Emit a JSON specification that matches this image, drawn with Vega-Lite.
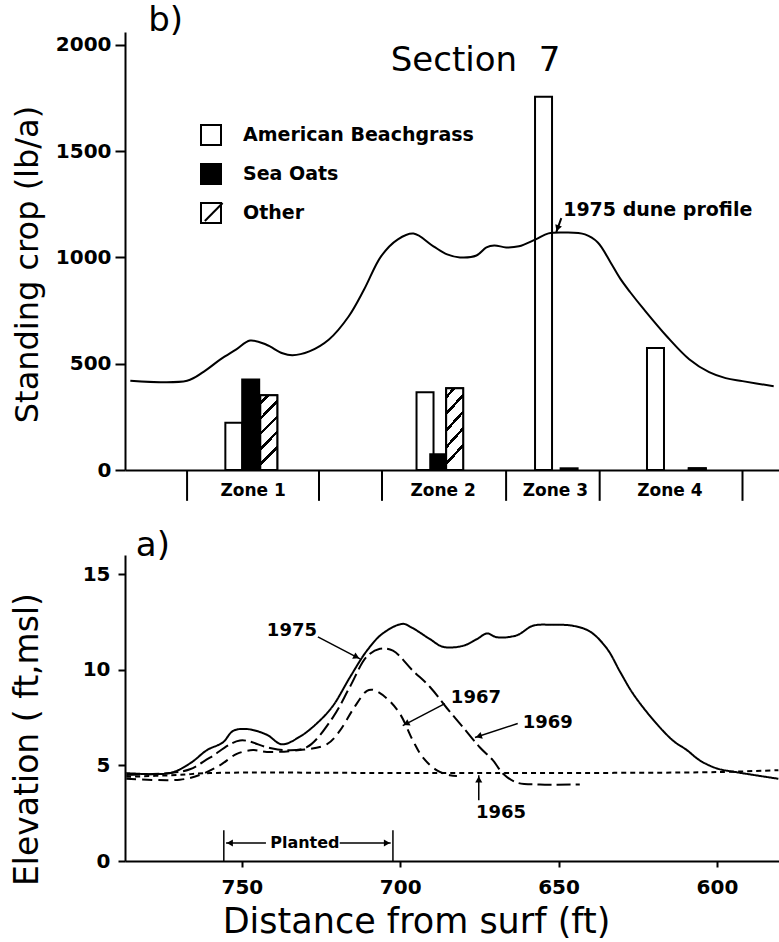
{
  "$schema": "https://vega.github.io/schema/vega-lite/v6.json",
  "background": "white",
  "padding": {"left": 11, "top": 4, "right": 0, "bottom": 0},
  "config": {
    "view": {"stroke": null},
    "axis": {"domainColor": "black", "tickColor": "black", "labelColor": "black", "titleColor": "black", "grid": false, "domainWidth": 2, "tickWidth": 2, "labelFlush": false}
  },
  "datasets": {
    "crop": [
      {"zone": "Zone 1", "species": "American Beachgrass", "dist": 756.8, "crop": 222},
      {"zone": "Zone 1", "species": "Sea Oats", "dist": 751.4, "crop": 426},
      {"zone": "Zone 1", "species": "Other", "dist": 745.6, "crop": 352},
      {"zone": "Zone 2", "species": "American Beachgrass", "dist": 695.5, "crop": 366},
      {"zone": "Zone 2", "species": "Sea Oats", "dist": 691.1, "crop": 74},
      {"zone": "Zone 2", "species": "Other", "dist": 686.0, "crop": 384},
      {"zone": "Zone 3", "species": "American Beachgrass", "dist": 657.5, "crop": 1756},
      {"zone": "Zone 3", "species": "Sea Oats", "dist": 649.3, "crop": 8},
      {"zone": "Zone 4", "species": "American Beachgrass", "dist": 621.6, "crop": 574},
      {"zone": "Zone 4", "species": "Other", "dist": 608.2, "crop": 8}
    ],
    "dune": [
      {"dist": 790, "crop": 420}, {"dist": 771.8, "crop": 420}, {"dist": 766.4, "crop": 463},
      {"dist": 761.1, "crop": 520}, {"dist": 756, "crop": 567}, {"dist": 751.6, "crop": 609},
      {"dist": 746.5, "crop": 590}, {"dist": 741.2, "crop": 549}, {"dist": 738, "crop": 540},
      {"dist": 732.6, "crop": 558}, {"dist": 726.3, "crop": 614}, {"dist": 720, "crop": 722},
      {"dist": 715, "crop": 850}, {"dist": 709.6, "crop": 1005}, {"dist": 704.2, "crop": 1085},
      {"dist": 699.2, "crop": 1112}, {"dist": 692.8, "crop": 1052}, {"dist": 688.4, "crop": 1014},
      {"dist": 684.3, "crop": 1000}, {"dist": 679, "crop": 1009}, {"dist": 675.8, "crop": 1047},
      {"dist": 673.3, "crop": 1056}, {"dist": 669.5, "crop": 1047}, {"dist": 665.4, "crop": 1052},
      {"dist": 660, "crop": 1085}, {"dist": 655.9, "crop": 1113}, {"dist": 650.5, "crop": 1117},
      {"dist": 644.2, "crop": 1108}, {"dist": 640.1, "crop": 1070}, {"dist": 636, "crop": 976},
      {"dist": 632.9, "crop": 900}, {"dist": 629.7, "crop": 836}, {"dist": 625.3, "crop": 755},
      {"dist": 618, "crop": 629}, {"dist": 610.8, "crop": 521}, {"dist": 604.4, "crop": 460},
      {"dist": 599.1, "crop": 432}, {"dist": 593.7, "crop": 418}, {"dist": 583.7, "crop": 394}
    ],
    "zones": [{"dist": 771.8}, {"dist": 729.5}, {"dist": 709.3}, {"dist": 669.5}, {"dist": 639.5}, {"dist": 593.7}],
    "zonelabels": [
      {"zone": "Zone 1", "dist": 750.6}, {"zone": "Zone 2", "dist": 689.7},
      {"zone": "Zone 3", "dist": 653.7}, {"zone": "Zone 4", "dist": 617}
    ],
    "topbig": [
      {"label": "Section\u00a0\u00a07", "dist": 679.3, "crop": 1924},
      {"label": "b)", "dist": 778.7, "crop": 2111}
    ],
    "topnote": [{"label": "1975 dune profile", "dist": 651.2, "crop": 1221}],
    "toparrow": [
      {"dist": 651.8, "crop": 1185, "dist2": 653.4, "crop2": 1119},
      {"dist": 766.1, "crop": 1171, "dist2": 760.4, "crop2": 1256}
    ],
    "tophead": [{"dist": 653, "crop": 1137, "heading": 200}],
    "profiles": [
      {"year": "1975", "dist": 786.5, "elev": 4.6}, {"year": "1975", "dist": 772.7, "elev": 4.6},
      {"year": "1975", "dist": 766.4, "elev": 5.1}, {"year": "1975", "dist": 761, "elev": 5.8},
      {"year": "1975", "dist": 756, "elev": 6.2}, {"year": "1975", "dist": 752.8, "elev": 6.8},
      {"year": "1975", "dist": 748.4, "elev": 6.9}, {"year": "1975", "dist": 742.1, "elev": 6.6},
      {"year": "1975", "dist": 737.4, "elev": 6.1}, {"year": "1975", "dist": 731.7, "elev": 6.5},
      {"year": "1975", "dist": 726.3, "elev": 7.2}, {"year": "1975", "dist": 721.3, "elev": 8.1},
      {"year": "1975", "dist": 715.9, "elev": 9.6}, {"year": "1975", "dist": 710.5, "elev": 11.0},
      {"year": "1975", "dist": 705.5, "elev": 11.9}, {"year": "1975", "dist": 699.2, "elev": 12.4},
      {"year": "1975", "dist": 696.3, "elev": 12.2}, {"year": "1975", "dist": 690.6, "elev": 11.6},
      {"year": "1975", "dist": 686.5, "elev": 11.2}, {"year": "1975", "dist": 680.2, "elev": 11.25},
      {"year": "1975", "dist": 675.8, "elev": 11.6}, {"year": "1975", "dist": 672.6, "elev": 11.9},
      {"year": "1975", "dist": 669.5, "elev": 11.7}, {"year": "1975", "dist": 663.2, "elev": 11.8},
      {"year": "1975", "dist": 658.1, "elev": 12.3}, {"year": "1975", "dist": 651.8, "elev": 12.35},
      {"year": "1975", "dist": 645.5, "elev": 12.3}, {"year": "1975", "dist": 640.1, "elev": 12.0},
      {"year": "1975", "dist": 634.7, "elev": 11.1}, {"year": "1975", "dist": 630.6, "elev": 9.9},
      {"year": "1975", "dist": 626.5, "elev": 8.75}, {"year": "1975", "dist": 620.2, "elev": 7.4},
      {"year": "1975", "dist": 613.9, "elev": 6.3}, {"year": "1975", "dist": 609.5, "elev": 5.8},
      {"year": "1975", "dist": 605.4, "elev": 5.26}, {"year": "1975", "dist": 600, "elev": 4.84},
      {"year": "1975", "dist": 593.7, "elev": 4.64}, {"year": "1975", "dist": 580.6, "elev": 4.3},
      {"year": "1969", "dist": 786.5, "elev": 4.5}, {"year": "1969", "dist": 772.7, "elev": 4.6},
      {"year": "1969", "dist": 766.4, "elev": 4.8}, {"year": "1969", "dist": 760.1, "elev": 5.4},
      {"year": "1969", "dist": 750.6, "elev": 6.3}, {"year": "1969", "dist": 742.1, "elev": 5.95},
      {"year": "1969", "dist": 737.1, "elev": 5.8}, {"year": "1969", "dist": 729.5, "elev": 5.95},
      {"year": "1969", "dist": 721.3, "elev": 7.5}, {"year": "1969", "dist": 715.9, "elev": 9.1},
      {"year": "1969", "dist": 710.5, "elev": 10.7}, {"year": "1969", "dist": 706.4, "elev": 11.1},
      {"year": "1969", "dist": 702.3, "elev": 11.0}, {"year": "1969", "dist": 696, "elev": 9.95},
      {"year": "1969", "dist": 690.6, "elev": 9.1}, {"year": "1969", "dist": 685.3, "elev": 8.0},
      {"year": "1969", "dist": 680.2, "elev": 7.0}, {"year": "1969", "dist": 674.9, "elev": 5.95},
      {"year": "1969", "dist": 670.7, "elev": 5.26}, {"year": "1969", "dist": 667.6, "elev": 4.58},
      {"year": "1969", "dist": 663.2, "elev": 4.1}, {"year": "1969", "dist": 655.9, "elev": 4.0},
      {"year": "1969", "dist": 643.3, "elev": 4.0},
      {"year": "1967", "dist": 786.5, "elev": 4.3}, {"year": "1967", "dist": 769.6, "elev": 4.25},
      {"year": "1967", "dist": 763.3, "elev": 4.5}, {"year": "1967", "dist": 757, "elev": 5.0},
      {"year": "1967", "dist": 751.6, "elev": 5.6}, {"year": "1967", "dist": 746.5, "elev": 5.8},
      {"year": "1967", "dist": 742.1, "elev": 5.7}, {"year": "1967", "dist": 731.7, "elev": 5.8},
      {"year": "1967", "dist": 723.2, "elev": 6.1}, {"year": "1967", "dist": 719.1, "elev": 6.8},
      {"year": "1967", "dist": 715, "elev": 7.9}, {"year": "1967", "dist": 710.5, "elev": 8.9},
      {"year": "1967", "dist": 708.6, "elev": 8.95}, {"year": "1967", "dist": 704.2, "elev": 8.5},
      {"year": "1967", "dist": 700.1, "elev": 7.7}, {"year": "1967", "dist": 696, "elev": 6.3},
      {"year": "1967", "dist": 692.8, "elev": 5.4}, {"year": "1967", "dist": 688.4, "elev": 4.74},
      {"year": "1967", "dist": 684.3, "elev": 4.48}, {"year": "1967", "dist": 682.1, "elev": 4.45},
      {"year": "1965", "dist": 786.5, "elev": 4.4}, {"year": "1965", "dist": 770, "elev": 4.5},
      {"year": "1965", "dist": 760, "elev": 4.6}, {"year": "1965", "dist": 700, "elev": 4.6},
      {"year": "1965", "dist": 650, "elev": 4.6}, {"year": "1965", "dist": 600, "elev": 4.65},
      {"year": "1965", "dist": 580.6, "elev": 4.75}
    ],
    "yearlabels": [
      {"label": "1975", "dist": 734.2, "elev": 12.03},
      {"label": "1967", "dist": 676.1, "elev": 8.54},
      {"label": "1969", "dist": 653.4, "elev": 7.24},
      {"label": "1965", "dist": 668.2, "elev": 2.5}
    ],
    "planted": [{"label": "Planted", "dist": 730.1, "elev": 0.94}],
    "panelA": [{"label": "a)", "dist": 778.1, "elev": 16.46}],
    "arrows": [
      {"dist": 726, "elev": 11.72, "dist2": 712.7, "elev2": 10.57},
      {"dist": 685.9, "elev": 8.23, "dist2": 699.2, "elev2": 7.08},
      {"dist": 662.9, "elev": 7.19, "dist2": 676.4, "elev2": 6.46},
      {"dist": 675.2, "elev": 3.18, "dist2": 675.2, "elev2": 4.48},
      {"dist": 742.4, "elev": 0.94, "dist2": 755.0, "elev2": 0.94},
      {"dist": 719.1, "elev": 0.94, "dist2": 703.0, "elev2": 0.94},
      {"dist": 755.7, "elev": 0, "dist2": 755.7, "elev2": 1.61},
      {"dist": 702.3, "elev": 0, "dist2": 702.3, "elev2": 1.61}
    ],
    "heads": [
      {"dist": 713.8, "elev": 10.67, "heading": 117.6},
      {"dist": 698.1, "elev": 7.18, "heading": 242.4},
      {"dist": 675.2, "elev": 6.52, "heading": 252},
      {"dist": 675.2, "elev": 4.27, "heading": 0},
      {"dist": 753.8, "elev": 0.94, "heading": 270},
      {"dist": 704.2, "elev": 0.94, "heading": 90}
    ]
  },
  "bounds": "flush",
  "spacing": 85,
  "vconcat": [
    {
      "width": 654,
      "height": 438,
      "layer": [
        {
          "data": {"name": "crop"},
          "mark": {"type": "bar", "size": 17, "stroke": "black", "strokeWidth": 2},
          "encoding": {
            "x": {"field": "dist", "type": "quantitative",
              "scale": {"domain": [583.6, 790.1], "reverse": true, "nice": false, "zero": false},
              "axis": {"title": null, "labels": false, "ticks": false, "domain": true}},
            "y": {"field": "crop", "type": "quantitative",
              "scale": {"domain": [0, 2060], "nice": false},
              "axis": {"values": [0, 500, 1000, 1500, 2000], "format": "d", "tickSize": 10, "labelPadding": 4,
                "labelFont": "DejaVu Sans", "labelFontSize": 20, "labelFontWeight": "bold",
                "title": "Standing crop (lb/a)", "titleFont": "DejaVu Sans", "titleFontSize": 32, "titleFontWeight": "normal",
                "titleX": -88, "titleY": 232, "titleAngle": 270, "titleBaseline": "alphabetic", "titleAlign": "center"}},
            "fill": {"field": "species", "type": "nominal",
              "scale": {"domain": ["American Beachgrass", "Sea Oats", "Other"], "range": ["white", "black", "transparent"]},
              "legend": {"orient": "none", "legendX": 75, "legendY": 92, "title": null,
                "symbolType": "square", "symbolSize": 400, "symbolStrokeColor": "black", "symbolStrokeWidth": 2,
                "labelFont": "DejaVu Sans", "labelFontSize": 19, "labelFontWeight": "bold", "labelColor": "black",
                "labelLimit": 0, "labelOffset": 21, "rowPadding": 11, "padding": 0}}
          }
        },
        {
          "data": {"name": "crop"},
          "transform": [{"filter": "datum.species === 'Other'"}],
          "mark": {"type": "bar", "size": 17, "stroke": "black", "strokeWidth": 2,
            "fill": {"gradient": "linear", "x1": 0, "y1": 0, "x2": 0.23, "y2": 1, "stops": [
              {"offset": 0, "color": "white"}, {"offset": 0.08, "color": "white"},
              {"offset": 0.08, "color": "black"}, {"offset": 0.125, "color": "black"},
              {"offset": 0.125, "color": "white"}, {"offset": 0.274, "color": "white"},
              {"offset": 0.274, "color": "black"}, {"offset": 0.319, "color": "black"},
              {"offset": 0.319, "color": "white"}, {"offset": 0.468, "color": "white"},
              {"offset": 0.468, "color": "black"}, {"offset": 0.513, "color": "black"},
              {"offset": 0.513, "color": "white"}, {"offset": 0.662, "color": "white"},
              {"offset": 0.662, "color": "black"}, {"offset": 0.707, "color": "black"},
              {"offset": 0.707, "color": "white"}, {"offset": 0.856, "color": "white"},
              {"offset": 0.856, "color": "black"}, {"offset": 0.901, "color": "black"},
              {"offset": 0.901, "color": "white"}, {"offset": 1, "color": "white"}]}},
          "encoding": {
            "x": {"field": "dist", "type": "quantitative"},
            "y": {"field": "crop", "type": "quantitative"}
          }
        },
        {
          "data": {"name": "dune"},
          "mark": {"type": "line", "color": "black", "strokeWidth": 2, "interpolate": "catmull-rom"},
          "encoding": {
            "x": {"field": "dist", "type": "quantitative"},
            "y": {"field": "crop", "type": "quantitative"}
          }
        },
        {
          "data": {"name": "zones"},
          "mark": {"type": "rule", "color": "black", "strokeWidth": 2},
          "encoding": {
            "x": {"field": "dist", "type": "quantitative"},
            "y": {"datum": 0},
            "y2": {"datum": -145}
          }
        },
        {
          "data": {"name": "zonelabels"},
          "mark": {"type": "text", "font": "DejaVu Sans", "fontSize": 17, "fontWeight": "bold", "color": "black", "align": "center", "baseline": "middle"},
          "encoding": {
            "x": {"field": "dist", "type": "quantitative"},
            "y": {"datum": -99},
            "text": {"field": "zone"}
          }
        },
        {
          "data": {"name": "topbig"},
          "mark": {"type": "text", "font": "DejaVu Sans", "fontSize": 34, "color": "black", "align": "center", "baseline": "middle"},
          "encoding": {
            "x": {"field": "dist", "type": "quantitative"},
            "y": {"field": "crop", "type": "quantitative"},
            "text": {"field": "label"}
          }
        },
        {
          "data": {"name": "topnote"},
          "mark": {"type": "text", "font": "DejaVu Sans", "fontSize": 19, "fontWeight": "bold", "color": "black", "align": "left", "baseline": "middle"},
          "encoding": {
            "x": {"field": "dist", "type": "quantitative"},
            "y": {"field": "crop", "type": "quantitative"},
            "text": {"field": "label"}
          }
        },
        {
          "data": {"name": "toparrow"},
          "mark": {"type": "rule", "color": "black", "strokeWidth": 2},
          "encoding": {
            "x": {"field": "dist", "type": "quantitative"},
            "y": {"field": "crop", "type": "quantitative"},
            "x2": {"field": "dist2"},
            "y2": {"field": "crop2"}
          }
        },
        {
          "data": {"name": "tophead"},
          "mark": {"type": "point", "shape": "triangle-up", "size": 50, "filled": true, "color": "black", "opacity": 1},
          "encoding": {
            "x": {"field": "dist", "type": "quantitative"},
            "y": {"field": "crop", "type": "quantitative"},
            "angle": {"field": "heading", "type": "quantitative", "scale": null}
          }
        }
      ]
    },
    {
      "width": 654,
      "height": 306,
      "layer": [
        {
          "data": {"name": "profiles"},
          "mark": {"type": "line", "color": "black", "strokeWidth": 2, "interpolate": "catmull-rom"},
          "encoding": {
            "x": {"field": "dist", "type": "quantitative",
              "scale": {"domain": [580.4, 786.9], "reverse": true, "nice": false, "zero": false},
              "axis": {"values": [750, 700, 650, 600], "tickSize": 6, "labelPadding": 10,
                "labelFont": "DejaVu Sans", "labelFontSize": 20, "labelFontWeight": "bold",
                "title": "Distance from surf (ft)", "titleFont": "DejaVu Sans", "titleFontSize": 35, "titleFontWeight": "normal",
                "titleX": 291, "titleY": 60, "titleBaseline": "middle", "titleAlign": "center"}},
            "y": {"field": "elev", "type": "quantitative",
              "scale": {"domain": [0, 16], "nice": false},
              "axis": {"values": [0, 5, 10, 15], "tickSize": 7, "labelPadding": 8,
                "labelFont": "DejaVu Sans", "labelFontSize": 20, "labelFontWeight": "bold",
                "title": "Elevation ( ft,msl)", "titleFont": "DejaVu Sans", "titleFontSize": 33, "titleFontWeight": "normal",
                "titleX": -88, "titleY": 184, "titleAngle": 270, "titleBaseline": "alphabetic", "titleAlign": "center"}},
            "strokeDash": {"field": "year", "type": "nominal",
              "scale": {"domain": ["1975", "1969", "1967", "1965"], "range": [[1, 0], [14, 5], [10, 6], [5, 4]]},
              "legend": null}
          }
        },
        {
          "data": {"name": "yearlabels"},
          "mark": {"type": "text", "font": "DejaVu Sans", "fontSize": 18, "fontWeight": "bold", "color": "black", "align": "center", "baseline": "middle"},
          "encoding": {
            "x": {"field": "dist", "type": "quantitative"},
            "y": {"field": "elev", "type": "quantitative"},
            "text": {"field": "label"}
          }
        },
        {
          "data": {"name": "planted"},
          "mark": {"type": "text", "font": "DejaVu Sans", "fontSize": 16, "fontWeight": "bold", "color": "black", "align": "center", "baseline": "middle"},
          "encoding": {
            "x": {"field": "dist", "type": "quantitative"},
            "y": {"field": "elev", "type": "quantitative"},
            "text": {"field": "label"}
          }
        },
        {
          "data": {"name": "panelA"},
          "mark": {"type": "text", "font": "DejaVu Sans", "fontSize": 34, "color": "black", "align": "center", "baseline": "middle"},
          "encoding": {
            "x": {"field": "dist", "type": "quantitative"},
            "y": {"field": "elev", "type": "quantitative"},
            "text": {"field": "label"}
          }
        },
        {
          "data": {"name": "arrows"},
          "mark": {"type": "rule", "color": "black", "strokeWidth": 1.5},
          "encoding": {
            "x": {"field": "dist", "type": "quantitative"},
            "y": {"field": "elev", "type": "quantitative"},
            "x2": {"field": "dist2"},
            "y2": {"field": "elev2"}
          }
        },
        {
          "data": {"name": "heads"},
          "mark": {"type": "point", "shape": "triangle-up", "size": 50, "filled": true, "color": "black", "opacity": 1},
          "encoding": {
            "x": {"field": "dist", "type": "quantitative"},
            "y": {"field": "elev", "type": "quantitative"},
            "angle": {"field": "heading", "type": "quantitative", "scale": null}
          }
        }
      ]
    }
  ]
}
